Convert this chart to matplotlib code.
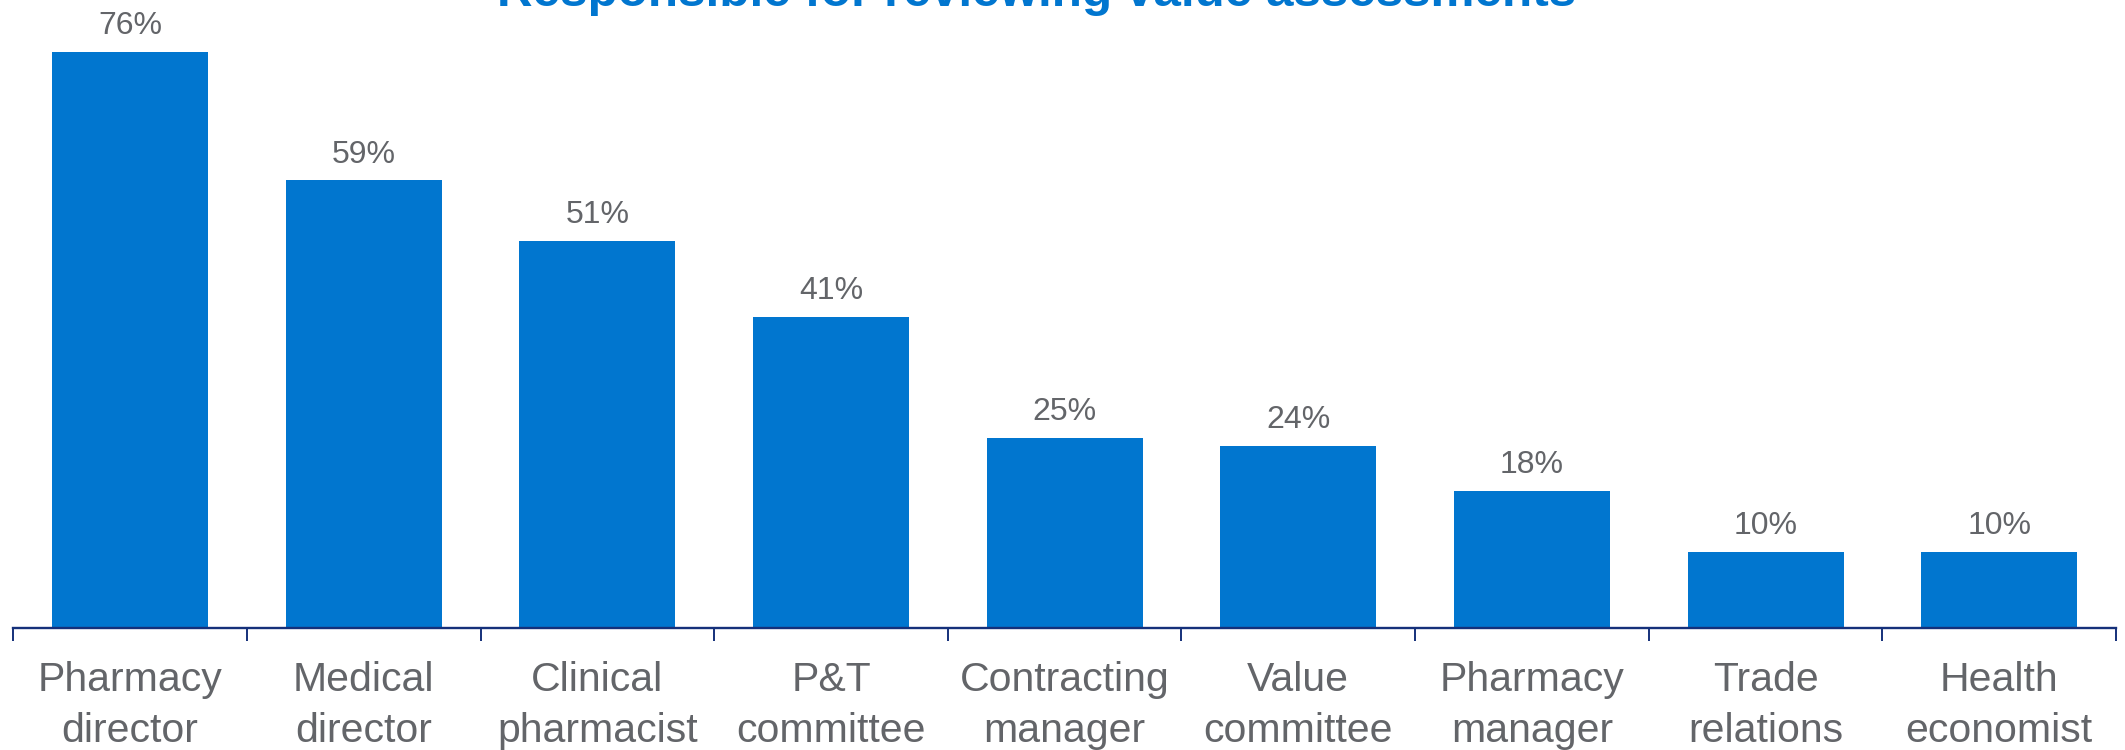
import numpy as np
import matplotlib
matplotlib.use('Agg')
import matplotlib.pyplot as plt
from matplotlib.ticker import FixedLocator

plt.rcParams['font.family'] = ['Liberation Sans', 'DejaVu Sans']

# data
roles = ['Pharmacy\ndirector', 'Medical\ndirector', 'Clinical\npharmacist',
         'P&T\ncommittee', 'Contracting\nmanager', 'Value\ncommittee',
         'Pharmacy\nmanager', 'Trade\nrelations', 'Health\neconomist']
share = [76, 59, 51, 41, 25, 24, 18, 10, 10]
title = 'Responsible for reviewing value assessments'

blue = '#0176CF'
grey = '#636569'
navy = '#15307A'

fig = plt.figure(figsize=(21.25, 7.5), dpi=100)
ax = fig.add_axes([13.3 / 2125, 1 - 627.5 / 750, 2102.7 / 2125, 627.5 / 750])

x = np.arange(len(roles))
bars = ax.bar(x, share, width=0.668, color=blue, zorder=2)

for b, v in zip(bars, share):
    ax.annotate('%d%%' % v, (b.get_x() + b.get_width() / 2, b.get_height()),
                xytext=(0, 12.7), textcoords='offset points',
                ha='center', va='baseline', fontsize=23, color=grey)

ax.set_xlim(-0.5, len(roles) - 0.5)
ax.set_ylim(0, 82.8)

ax.set_xticks(x)
ax.set_xticklabels(roles, fontsize=29.5, color=grey)
for lab in ax.get_xticklabels():
    lab.set_linespacing(1.45)
ax.xaxis.set_minor_locator(FixedLocator(np.arange(-0.5, len(roles), 1.0)))
ax.tick_params(axis='x', which='major', length=0, pad=24)
ax.tick_params(axis='x', which='minor', length=9.5, width=1.4, color=navy)
ax.set_yticks([])

for s in ['left', 'top', 'right']:
    ax.spines[s].set_visible(False)
ax.spines['bottom'].set_color(navy)
ax.spines['bottom'].set_linewidth(1.7)

fig.text(1037 / 2125, 1 - 6 / 750, title, ha='center', va='baseline',
         fontsize=35.6, fontweight='bold', color=blue)

fig.savefig('out.png', dpi=100)
